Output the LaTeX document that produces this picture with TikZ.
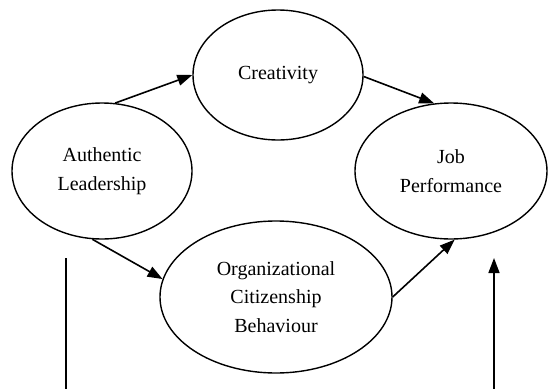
\documentclass[tikz,border=0pt]{standalone}
\usepackage{fontspec}
\setmainfont{Liberation Serif}
\usetikzlibrary{shapes.geometric,arrows.meta}
\tikzset{
  oval/.style={draw, ellipse, line width=1.4pt, inner sep=0pt, align=center,
    font=\fontsize{20}{28.5}\selectfont},
  conn/.style={line width=1.6pt, -{Triangle[length=15pt,width=11pt]}},
  plain/.style={line width=1.6pt}
}
\begin{document}
\begin{tikzpicture}[x=1pt,y=-1pt]
\useasboundingbox (0,0) rectangle (550,389);
\node[oval, minimum width=170pt, minimum height=130pt] (cr) at (278,75) {Creativity};
\node[oval, minimum width=180pt, minimum height=136pt] (al) at (102,171) {Authentic\\Leadership};
\node[oval, minimum width=192pt, minimum height=136pt] (jp) at (451,171) {Job\\Performance};
\node[oval, minimum width=232pt, minimum height=152pt] (ocb) at (276,297) {Organizational\\Citizenship\\Behaviour};
\coordinate (lt) at (66,258);
\coordinate (lb) at (66,389);
\coordinate (rt) at (494,258);
\coordinate (rb) at (494,389);
\draw[conn] (al.79) -- (cr.180);
\draw[conn] (cr.-1) -- (jp.104);
\draw[conn] (al.262) -- (ocb.171);
\draw[conn] (ocb.0) -- (jp.273);
\draw[plain] (lt) -- (lb);
\draw[conn] (rb) -- (rt);
\end{tikzpicture}
\end{document}
